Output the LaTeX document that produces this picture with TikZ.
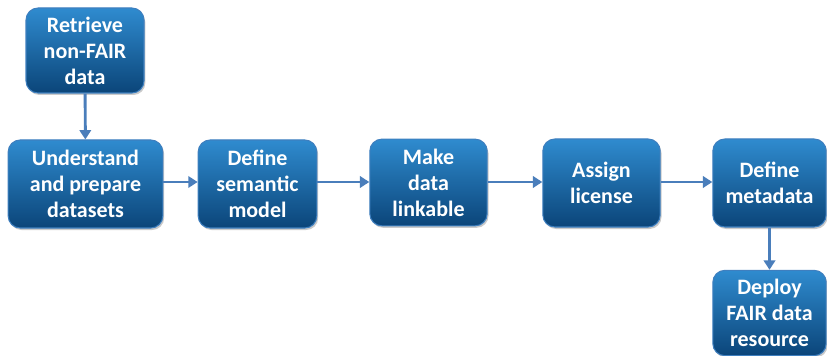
\documentclass[tikz,border=0pt]{standalone}
\usepackage{fontspec}
\setmainfont{Carlito}
\usetikzlibrary{arrows.meta,shadows}
\definecolor{boxtop}{HTML}{2F8BCF}
\definecolor{boxbot}{HTML}{0B4579}
\definecolor{boxline}{HTML}{3E7FBF}
\definecolor{arrowc}{HTML}{4A7EBB}
\begin{document}
\begin{tikzpicture}[x=0.75pt,y=-0.75pt,
  stepbox/.style={rectangle, rounded corners=9pt, top color=boxtop, bottom color=boxbot,
    draw=boxline, line width=0.8pt, text=white, align=center,
    font=\fontsize{16.5}{19.5}\selectfont\bfseries, inner sep=0pt,
    drop shadow={shadow xshift=1pt, shadow yshift=-1.5pt, opacity=0.35, fill=black!60}},
  flow/.style={draw=arrowc, line width=2.2pt, -{Triangle[width=8.5pt,length=7pt]}}]
\useasboundingbox (0,0) rectangle (827,356);
\node[stepbox, minimum width=88.5pt, minimum height=63.75pt] (ret) at (85,50.5) {Retrieve\\non-FAIR\\data};
\node[stepbox, minimum width=116pt, minimum height=66pt] (und) at (85.5,184) {Understand\\and prepare\\datasets};
\node[stepbox, minimum width=89pt, minimum height=66pt] (sem) at (257.5,184) {Define\\semantic\\model};
\node[stepbox, minimum width=88pt, minimum height=65pt] (mak) at (428.5,182.5) {Make\\data\\linkable};
\node[stepbox, minimum width=88pt, minimum height=66pt] (lic) at (601.5,183) {Assign\\license};
\node[stepbox, minimum width=85pt, minimum height=66pt] (met) at (769.5,183) {Define\\metadata};
\node[stepbox, minimum width=85pt, minimum height=64pt] (dep) at (769.5,313) {Deploy\\FAIR data\\resource};
\draw[flow] (ret) -- (und);
\draw[flow] (und.east |- 0,182) -- (sem.west |- 0,182);
\draw[flow] (sem.east |- 0,182) -- (mak.west |- 0,182);
\draw[flow] (mak.east |- 0,182) -- (lic.west |- 0,182);
\draw[flow] (lic.east |- 0,182) -- (met.west |- 0,182);
\draw[flow] (met) -- (dep);
\end{tikzpicture}
\end{document}
